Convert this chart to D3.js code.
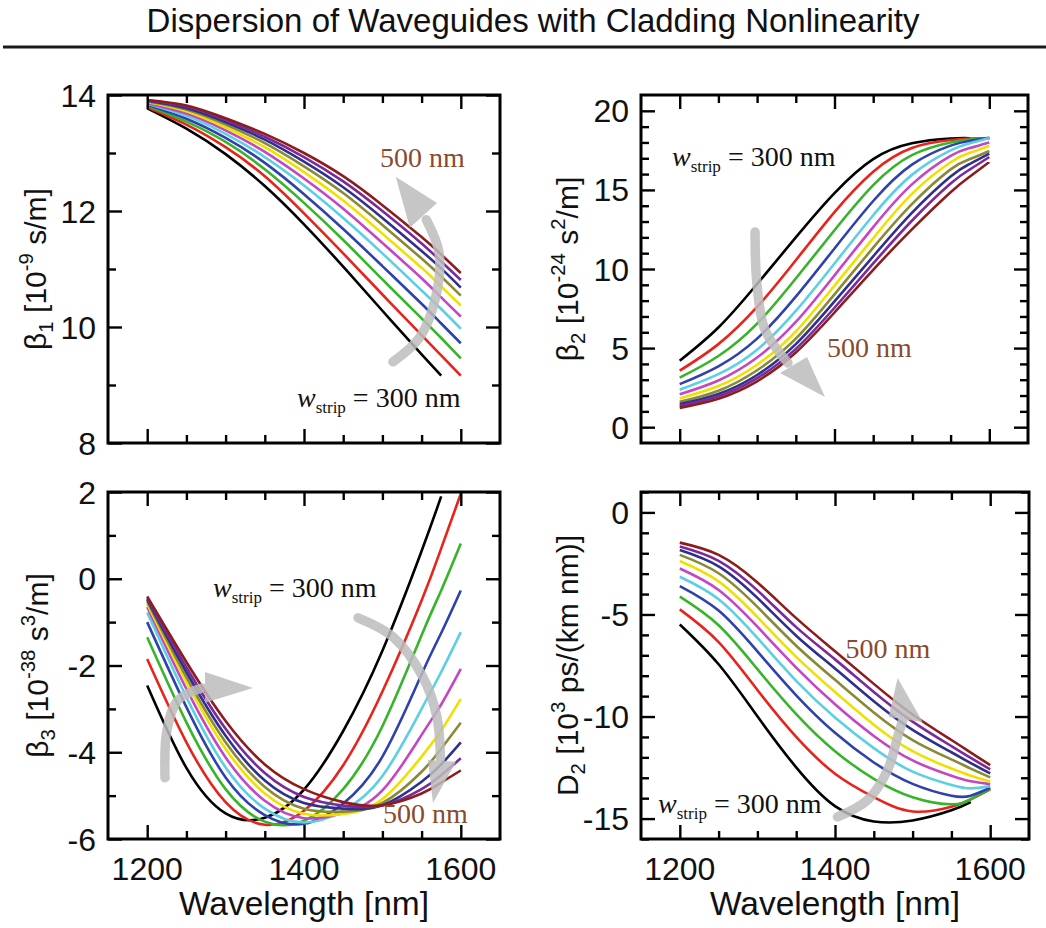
<!DOCTYPE html>
<html>
<head>
<meta charset="utf-8">
<script src="https://cdn.jsdelivr.net/npm/d3@7"></script>
<style>
  html, body { margin: 0; padding: 0; background: #ffffff; }
  svg { display: block; }
  text { white-space: pre; }
</style>
</head>
<body>
<svg id="chart" width="1046" height="928"></svg>
<script>
// Wavelength samples [nm] shared by every curve
const wavelength = [1200, 1250, 1300, 1350, 1400, 1450, 1500, 1550, 1575, 1600];
// Strip widths [nm], one curve each
const stripWidths = [300, 320, 340, 360, 380, 400, 420, 440, 460, 480, 500];
const seriesColors = ["#000000", "#e8231c", "#38b42a", "#2f42ac", "#5ccfe2", "#c446c2",
                      "#f0e000", "#8a8a36", "#2e3090", "#7b2a99", "#8c1d1d"];

// beta1 [1e-9 s/m]
const beta1 = [
  [13.77, 13.42, 12.98, 12.43, 11.77, 11.04, 10.28,  9.53,  9.16,  null],
  [13.79, 13.49, 13.10, 12.60, 11.96, 11.27, 10.56,  9.86,  9.51,  9.16],
  [13.815,13.54, 13.19, 12.72, 12.14, 11.50, 10.82, 10.15,  9.81,  9.46],
  [13.83, 13.59, 13.26, 12.83, 12.29, 11.69, 11.05, 10.40, 10.06,  9.72],
  [13.85, 13.64, 13.33, 12.93, 12.44, 11.88, 11.27, 10.63, 10.31,  9.97],
  [13.86, 13.68, 13.39, 13.02, 12.56, 12.04, 11.45, 10.84, 10.51, 10.18],
  [13.88, 13.72, 13.44, 13.10, 12.67, 12.18, 11.61, 11.02, 10.70, 10.37],
  [13.89, 13.75, 13.49, 13.17, 12.77, 12.31, 11.76, 11.18, 10.87, 10.54],
  [13.90, 13.77, 13.53, 13.23, 12.85, 12.41, 11.88, 11.31, 11.01, 10.68],
  [13.91, 13.80, 13.57, 13.28, 12.93, 12.51, 12.00, 11.44, 11.13, 10.81],
  [13.915,13.82, 13.60, 13.33, 13.00, 12.60, 12.10, 11.55, 11.25, 10.93]
];

// beta2 [1e-24 s^2/m]
const beta2 = [
  [4.20, 6.30, 9.05, 12.00, 14.80, 16.95, 17.95, 18.25, 18.27, null],
  [3.57, 5.25, 7.60, 10.55, 13.60, 16.15, 17.65, 18.15, 18.24, 18.27],
  [3.13, 4.50, 6.55,  9.40, 12.45, 15.30, 17.20, 18.00, 18.18, 18.28],
  [2.72, 3.85, 5.60,  8.25, 11.30, 14.30, 16.60, 17.80, 18.10, 18.30],
  [2.37, 3.35, 4.90,  7.35, 10.35, 13.40, 15.95, 17.50, 17.95, 18.28],
  [2.08, 2.95, 4.40,  6.65,  9.60, 12.65, 15.35, 17.15, 17.65, 18.00],
  [1.82, 2.60, 3.95,  6.05,  8.95, 11.95, 14.75, 16.75, 17.35, 17.78],
  [1.60, 2.30, 3.60,  5.60,  8.40, 11.35, 14.10, 16.30, 16.95, 17.46],
  [1.46, 2.10, 3.30,  5.25,  7.95, 10.80, 13.55, 15.85, 16.65, 17.29],
  [1.34, 1.95, 3.10,  4.95,  7.55, 10.35, 13.05, 15.40, 16.30, 17.08],
  [1.22, 1.80, 2.90,  4.72,  7.25,  9.95, 12.50, 14.85, 15.85, 16.76]
];

// beta3 [1e-38 s^3/m]
const beta3 = [
  [-2.46, -4.36, -5.41, -5.51, -4.86, -3.51, -1.66,  0.64,  1.90,  null],
  [-1.85, -3.77, -5.15, -5.67, -5.35, -4.30, -2.60, -0.50,  0.70,  1.96],
  [-1.35, -3.31, -4.85, -5.60, -5.58, -4.85, -3.40, -1.30, -0.27,  0.81],
  [-1.00, -2.96, -4.58, -5.45, -5.65, -5.18, -4.10, -2.20, -1.25, -0.27],
  [-0.78, -2.73, -4.35, -5.30, -5.62, -5.35, -4.55, -3.00, -2.15, -1.23],
  [-0.65, -2.54, -4.12, -5.12, -5.52, -5.40, -4.88, -3.60, -2.90, -2.08],
  [-0.58, -2.38, -3.92, -4.95, -5.42, -5.42, -5.08, -4.10, -3.50, -2.77],
  [-0.52, -2.27, -3.77, -4.80, -5.30, -5.37, -5.17, -4.45, -3.92, -3.32],
  [-0.48, -2.15, -3.62, -4.65, -5.17, -5.30, -5.22, -4.68, -4.28, -3.77],
  [-0.45, -2.04, -3.46, -4.48, -5.03, -5.23, -5.23, -4.85, -4.53, -4.14],
  [-0.41, -1.92, -3.28, -4.28, -4.85, -5.15, -5.22, -4.95, -4.70, -4.42]
];

// D2 [1e3 ps/(km nm)]
const dispD2 = [
  [-5.49, -7.44, -9.99, -12.49, -14.39, -15.14, -15.09, -14.59, -14.19,   null],
  [-4.75, -6.35, -8.70, -11.00, -12.80, -13.95, -14.65, -14.42, -14.06, -13.57],
  [-4.13, -5.53, -7.68,  -9.88, -11.70, -13.05, -13.95, -14.30, -14.05, -13.54],
  [-3.61, -4.81, -6.81,  -8.96, -10.80, -12.25, -13.30, -13.88, -13.88, -13.49],
  [-3.15, -4.25, -6.15,  -8.25, -10.05, -11.55, -12.70, -13.35, -13.52, -13.41],
  [-2.75, -3.80, -5.60,  -7.60,  -9.40, -10.95, -12.15, -12.90, -13.17, -13.31],
  [-2.38, -3.38, -5.13,  -7.08,  -8.80, -10.40, -11.70, -12.55, -12.90, -13.19],
  [-2.08, -2.98, -4.63,  -6.53,  -8.20,  -9.80, -11.15, -12.10, -12.55, -12.98],
  [-1.84, -2.64, -4.19,  -6.04,  -7.65,  -9.25, -10.65, -11.75, -12.28, -12.79],
  [-1.67, -2.37, -3.82,  -5.62,  -7.20,  -8.80, -10.25, -11.45, -12.03, -12.59],
  [-1.48, -2.08, -3.43,  -5.18,  -6.80,  -8.40,  -9.90, -11.15, -11.77, -12.38]
];

// Axis ticks
const xMajorTicks = [1200, 1400, 1600];
const xMinorTicks = [1250, 1300, 1350, 1450, 1500, 1550];
const xTickLabels = ["1200", "1400", "1600"];

const SANS = "'Liberation Sans', Arial, Helvetica, sans-serif";
const SERIF = "'Liberation Serif', 'Times New Roman', Times, serif";
const BROWN_TEXT = "#8a4a2c";
const ARROW_GRAY = "#bdbdbd";

const svg = d3.select("#chart");

// Title and rule
svg.append("text")
  .attr("x", 533).attr("y", 32)
  .attr("text-anchor", "middle")
  .attr("font-family", SANS).attr("font-size", 33)
  .attr("fill", "#111")
  .text("Dispersion of Waveguides with Cladding Nonlinearity");
svg.append("line")
  .attr("x1", 3).attr("x2", 1046).attr("y1", 47).attr("y2", 47)
  .attr("stroke", "#1a1a1a").attr("stroke-width", 3);

// Text with sub/superscripts
function richText(sel, segs, size) {
  let cur = 0;
  segs.forEach(s => {
    const target = s.k === "sub" ? 0.24 * size : s.k === "sup" ? -0.42 * size : 0;
    const ts = sel.append("tspan").attr("dy", target - cur).text(s.t);
    if (s.k) ts.attr("font-size", size * 0.68);
    cur = target;
  });
}

function widthLabel(g, x, y) {
  const t = g.append("text").attr("x", x).attr("y", y)
    .attr("font-family", SERIF).attr("font-size", 28).attr("fill", "#111");
  t.append("tspan").attr("font-style", "italic").text("w");
  t.append("tspan").attr("font-size", 17).attr("dy", 6).text("strip");
  t.append("tspan").attr("dy", -6).text(" = 300 nm");
}

function brownLabel(g, x, y) {
  g.append("text").attr("x", x).attr("y", y)
    .attr("font-family", SERIF).attr("font-size", 28).attr("fill", BROWN_TEXT)
    .text("500 nm");
}

function grayArrow(g, x, y, body, head) {
  const a = g.append("g").attr("opacity", 0.85);
  const ln = d3.line().x(d => x(d[0])).y(d => y(d[1])).curve(d3.curveCatmullRom.alpha(0.5));
  a.append("path").attr("d", ln(body)).attr("fill", "none")
    .attr("stroke", ARROW_GRAY).attr("stroke-width", 9.5).attr("stroke-linecap", "round");
  a.append("path")
    .attr("d", "M" + head.map(d => x(d[0]) + "," + y(d[1])).join("L") + "Z")
    .attr("fill", ARROW_GRAY);
}

const panels = [
  {
    key: "b1", data: beta1, left: 108, right: 500, top: 95, bottom: 443,
    yDomain: [8, 14], yMajor: [8, 10, 12, 14], yMinor: [9, 11, 13],
    titleX: 46,
    title: [{t: "β"}, {t: "1", k: "sub"}, {t: " [10"}, {t: "-9", k: "sup"}, {t: " s/m]"}],
    xLabels: false,
    wLab: [1391, 8.62], bLab: [1497, 12.76],
    arrows: [
      { body: [[1513.5, 9.4], [1548, 9.83], [1570, 10.64], [1572, 11.3], [1556, 11.85]],
        head: [[1535, 11.71], [1569.6, 12.14], [1517, 12.59]] }
    ]
  },
  {
    key: "b2", data: beta2, left: 641, right: 1028, top: 95, bottom: 443,
    yDomain: [-1, 21], yMajor: [0, 5, 10, 15, 20],
    yMinor: [1, 2, 3, 4, 6, 7, 8, 9, 11, 12, 13, 14, 16, 17, 18, 19],
    titleX: 578,
    title: [{t: "β"}, {t: "2", k: "sub"}, {t: " [10"}, {t: "-24", k: "sup"}, {t: " s"}, {t: "2", k: "sup"}, {t: "/m]"}],
    xLabels: false,
    wLab: [1190, 16.51], bLab: [1390.3, 4.44],
    arrows: [
      { body: [[1297.3, 12.34], [1299.9, 8.99], [1310.2, 6.15], [1339.9, 4.06]],
        head: [[1329.6, 3.43], [1364.5, 4.44], [1387.7, 1.91]] }
    ]
  },
  {
    key: "b3", data: beta3, left: 108, right: 500, top: 492, bottom: 839,
    yDomain: [-6, 2], yMajor: [-6, -4, -2, 0, 2], yMinor: [-5, -3, -1, 1],
    titleX: 48,
    title: [{t: "β"}, {t: "3", k: "sub"}, {t: " [10"}, {t: "-38", k: "sup"}, {t: " s"}, {t: "3", k: "sup"}, {t: "/m]"}],
    xLabels: true,
    wLab: [1284, -0.42], bLab: [1500.8, -5.63],
    arrows: [
      { body: [[1222.7, -4.59], [1225.2, -3.49], [1239.3, -2.80], [1270, -2.52]],
        head: [[1273.7, -2.15], [1273.7, -2.86], [1335, -2.52]] },
      { body: [[1468.9, -0.90], [1513.5, -1.34], [1551.8, -2.27], [1569.6, -3.19], [1574, -4.15]],
        head: [[1558.2, -4.18], [1593.9, -4.22], [1564.5, -5.17]] }
    ]
  },
  {
    key: "d2", data: dispD2, left: 641, right: 1029, top: 492, bottom: 839,
    yDomain: [-16, 1], yMajor: [-15, -10, -5, 0],
    yMinor: [-16, -14, -13, -12, -11, -9, -8, -7, -6, -4, -3, -2, -1, 1],
    titleX: 578,
    title: [{t: "D"}, {t: "2", k: "sub"}, {t: " [10"}, {t: "3", k: "sup"}, {t: " ps/(km nm)]"}],
    xLabels: true,
    wLab: [1172, -14.73], bLab: [1413.6, -7.13],
    arrows: [
      { body: [[1403.2, -14.92], [1442, -14.09], [1467.8, -12.62], [1480.7, -11.0], [1488, -10.1]],
        head: [[1469.1, -10.02], [1513, -10.27], [1480.7, -8.11]] }
    ]
  }
];

panels.forEach(p => {
  const x = d3.scaleLinear().domain([1150, 1650]).range([p.left, p.right]);
  const y = d3.scaleLinear().domain(p.yDomain).range([p.bottom, p.top]);
  const g = svg.append("g").attr("class", "panel-" + p.key);

  const clipId = "clip-" + p.key;
  svg.append("clipPath").attr("id", clipId).append("rect")
    .attr("x", p.left).attr("y", p.top)
    .attr("width", p.right - p.left).attr("height", p.bottom - p.top);

  // Curves, narrowest strip first so wider strips sit on top
  const line = d3.line()
    .defined(d => d[1] !== null)
    .x(d => x(d[0])).y(d => y(d[1]))
    .curve(d3.curveNatural);
  const curves = g.append("g").attr("clip-path", "url(#" + clipId + ")");
  p.data.forEach((vals, i) => {
    curves.append("path")
      .datum(wavelength.map((w, j) => [w, vals[j]]))
      .attr("d", line)
      .attr("fill", "none")
      .attr("stroke", seriesColors[i])
      .attr("stroke-width", 2.6)
      .attr("stroke-linejoin", "round")
      .attr("data-width", stripWidths[i]);
  });

  // Inward ticks on all four sides
  const tickAxis = (gen, scale, vals, size, tr) => {
    const a = g.append("g").attr("transform", tr)
      .call(gen(scale).tickValues(vals).tickSize(-size).tickFormat(""));
    a.select(".domain").remove();
    a.selectAll("line").attr("stroke", "#000").attr("stroke-width", 2.4);
  };
  tickAxis(d3.axisBottom, x, xMajorTicks, 14, `translate(0,${p.bottom})`);
  tickAxis(d3.axisBottom, x, xMinorTicks, 8, `translate(0,${p.bottom})`);
  tickAxis(d3.axisTop, x, xMajorTicks, 14, `translate(0,${p.top})`);
  tickAxis(d3.axisTop, x, xMinorTicks, 8, `translate(0,${p.top})`);
  tickAxis(d3.axisLeft, y, p.yMajor, 14, `translate(${p.left},0)`);
  tickAxis(d3.axisLeft, y, p.yMinor, 8, `translate(${p.left},0)`);
  tickAxis(d3.axisRight, y, p.yMajor, 14, `translate(${p.right},0)`);
  tickAxis(d3.axisRight, y, p.yMinor, 8, `translate(${p.right},0)`);

  // Frame
  g.append("rect")
    .attr("x", p.left).attr("y", p.top)
    .attr("width", p.right - p.left).attr("height", p.bottom - p.top)
    .attr("fill", "none").attr("stroke", "#000").attr("stroke-width", 3);

  // Y tick labels
  g.selectAll(null).data(p.yMajor).enter().append("text")
    .attr("x", p.left - 12).attr("y", d => y(d))
    .attr("dy", "0.36em")
    .attr("text-anchor", "end")
    .attr("font-family", SANS).attr("font-size", 32).attr("fill", "#111")
    .text(d => String(d));

  // X tick labels and axis title
  if (p.xLabels) {
    g.selectAll(null).data(xMajorTicks).enter().append("text")
      .attr("x", d => x(d)).attr("y", 880)
      .attr("text-anchor", "middle")
      .attr("font-family", SANS).attr("font-size", 32).attr("fill", "#111")
      .text((d, i) => xTickLabels[i]);
    g.append("text")
      .attr("x", (p.left + p.right) / 2).attr("y", 915)
      .attr("text-anchor", "middle")
      .attr("font-family", SANS).attr("font-size", 33.5).attr("fill", "#111")
      .text("Wavelength [nm]");
  }

  // Y axis title
  const cy = (p.top + p.bottom) / 2;
  const yt = g.append("text")
    .attr("x", p.titleX).attr("y", cy)
    .attr("transform", `rotate(-90,${p.titleX},${cy})`)
    .attr("text-anchor", "middle")
    .attr("font-family", SANS).attr("font-size", 30).attr("fill", "#111");
  richText(yt, p.title, 30);

  // Annotations
  p.arrows.forEach(a => grayArrow(g, x, y, a.body, a.head));
  widthLabel(g, x(p.wLab[0]), y(p.wLab[1]));
  brownLabel(g, x(p.bLab[0]), y(p.bLab[1]));
});
</script>
</body>
</html>
